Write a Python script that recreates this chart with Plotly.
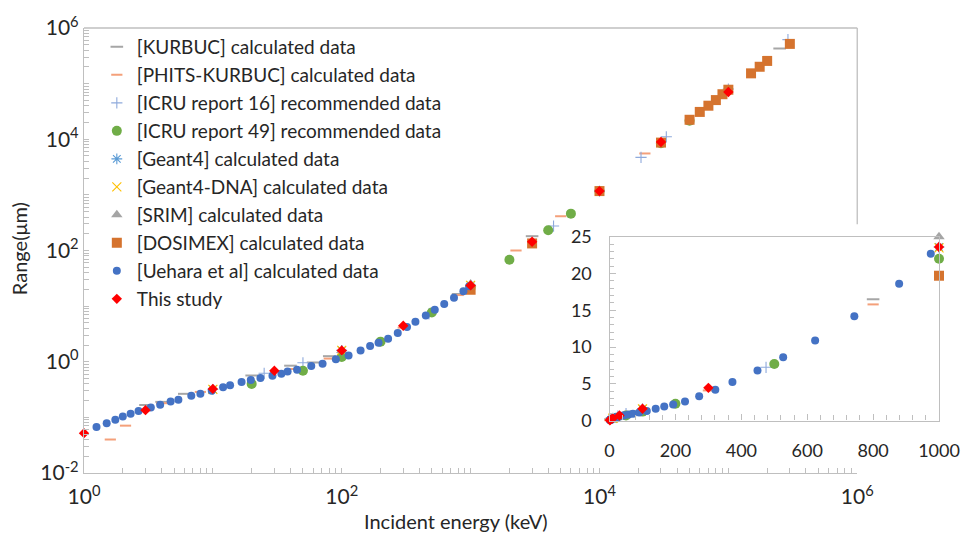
import numpy as np
import plotly.graph_objects as go

# ---------------- data (keV, µm) ----------------
kurbuc_E = [3, 4, 6, 20, 40, 60, 80, 800, 3000, 250000]
kurbuc_R = [0.167, 0.19, 0.265, 0.566, 0.85, 0.97, 1.26, 16.5, 181, 428000]

phits_E = [1.6, 2.1, 4, 8, 41, 80, 300, 800, 2250, 5000, 22500]
phits_R = [0.040, 0.071, 0.18, 0.287, 0.74, 1.14, 4.1, 15.8, 100, 413, 5550]

icru16_E = [25, 50, 475, 4400, 21000, 33000, 100000, 290000]
icru16_R = [0.62, 0.96, 7.25, 275, 4720, 11070, 80000, 617000]

icru49_E = [20, 50, 100, 200, 500, 1000, 2000, 4000, 6000, 10000, 30000, 50000]
icru49_R = [0.40, 0.69, 1.22, 2.3, 7.7, 22.0, 68, 231, 460, 1170, 8500, 21500]

geant4_E = [10, 100, 1000, 10000]
geant4_R = [0.32, 1.6, 23.6, 1170]

g4dna_E = [10, 100, 1000]
g4dna_R = [0.32, 1.6, 23.5]

srim_E = [100, 1000]
srim_R = [1.6, 25.0]

dosimex_E = [1000, 3000, 10000, 30000, 50000, 60000, 70000, 80000, 90000,
             100000, 150000, 175000, 200000, 300000]
dosimex_R = [19.7, 134, 1170, 8700, 22400, 31000, 40100, 50600, 64500,
             77700, 153000, 201000, 256000, 518000]

uehara_E = [1.25, 1.5, 1.75, 2, 2.3, 2.65, 3.3, 3.9, 4.7, 5.4, 6.8, 8, 9.8, 12,
            13.6, 16.7, 19.7, 23.4, 29, 34, 38, 45, 58, 71, 90, 113, 140, 166,
            193, 229, 272, 321, 373, 449, 527, 624, 743, 879, 975]
uehara_R = [0.067, 0.0785, 0.091, 0.104, 0.116, 0.13, 0.150, 0.168, 0.192,
            0.208, 0.245, 0.266, 0.30, 0.348, 0.377, 0.432, 0.468, 0.508, 0.558,
            0.607, 0.667, 0.72, 0.84, 0.92, 1.11, 1.30, 1.6, 1.92, 2.2, 2.6,
            3.3, 4.2, 5.25, 6.8, 8.6, 10.9, 14.2, 18.6, 22.7]

study_E = [1, 3, 10, 30, 100, 300, 1000, 3000, 10000, 30000, 100000]
study_R = [0.052, 0.135, 0.325, 0.69, 1.6, 4.45, 23.6, 144, 1170, 8900, 70800]

main_xticks = [1, 100, 1e4, 1e6]
main_xtext = ["10<sup>0</sup>", "10<sup>2</sup>", "10<sup>4</sup>", "10<sup>6</sup>"]
main_yticks = [1e-2, 1, 1e2, 1e4, 1e6]
main_ytext = ["10<sup>-2</sup>", "10<sup>0</sup>", "10<sup>2</sup>", "10<sup>4</sup>", "10<sup>6</sup>"]

# ---------------- styles ----------------
series = [
    ("[KURBUC] calculated data", kurbuc_E, kurbuc_R,
     dict(symbol="line-ew", size=9, color="#A6A6A6", line=dict(width=2, color="#A6A6A6"))),
    ("[PHITS-KURBUC] calculated data", phits_E, phits_R,
     dict(symbol="line-ew", size=8, color="#F4A07A", line=dict(width=2, color="#F4A07A"))),
    ("[ICRU report 16] recommended data", icru16_E, icru16_R,
     dict(symbol="cross-thin", size=8, color="#8FAADC", line=dict(width=1.1, color="#8FAADC"))),
    ("[ICRU report 49] recommended data", icru49_E, icru49_R,
     dict(symbol="circle", size=10, color="#70AD47")),
    ("[Geant4] calculated data", geant4_E, geant4_R,
     dict(symbol="asterisk", size=9, color="#5B9BD5", line=dict(width=1.1, color="#5B9BD5"))),
    ("[Geant4-DNA] calculated data", g4dna_E, g4dna_R,
     dict(symbol="x-thin", size=9, color="#FFC000", line=dict(width=1.1, color="#FFC000"))),
    ("[SRIM] calculated data", srim_E, srim_R,
     dict(symbol="triangle-up", size=10, color="#A5A5A5")),
    ("[DOSIMEX] calculated data", dosimex_E, dosimex_R,
     dict(symbol="square", size=10, color="#D5732E")),
    ("[Uehara et al] calculated data", uehara_E, uehara_R,
     dict(symbol="circle", size=8, color="#4472C4")),
    ("This study", study_E, study_R,
     dict(symbol="diamond", size=8, color="#FF0000")),
]

fig = go.Figure()
for i, (name, E, R, mk) in enumerate(series):
    fig.add_trace(go.Scatter(x=E, y=R, mode="markers", name=name, marker=mk,
                             cliponaxis=False, xaxis="x", yaxis="y",
                             legendgroup="g%d" % i))
for i, (name, E, R, mk) in enumerate(series):
    E = np.array(E, dtype=float)
    R = np.array(R, dtype=float)
    sel = E <= 1000
    if sel.any():
        fig.add_trace(go.Scatter(x=E[sel], y=R[sel], mode="markers", name=name,
                                 marker=mk, cliponaxis=False, showlegend=False,
                                 xaxis="x2", yaxis="y2", legendgroup="g%d" % i))

# ---------------- layout ----------------
W, H = 972, 535
ml, mr, mt, mb = 83.5, 22.7, 20, 61.6
pw = W - ml - mr
ph = H - mt - mb
main_right = (866.5 - ml) / pw
ins_left = (615.7 - ml) / pw
ins_bottom = (H - mb - 420) / ph
ins_top = (H - mb - 232.7) / ph

axcol = "#BFBFBF"
txt = "#262626"
FONT = "Lato"

log_minor_x = [d * 10 ** k for k in range(0, 6) for d in range(1, 10)] + [1e6]
log_minor_y = [d * 10 ** k for k in range(-2, 6) for d in range(1, 10)] + [1e6]

fig.update_layout(
    width=W, height=H,
    margin=dict(l=ml, r=mr, t=mt, b=mb, pad=0),
    paper_bgcolor="white", plot_bgcolor="white",
    font=dict(family=FONT, color=txt, size=18),
    xaxis=dict(type="log", range=[0, 6], domain=[0, main_right],
               tickmode="array", tickvals=main_xticks, ticktext=main_xtext,
               ticks="inside", ticklen=5, tickcolor=axcol,
               minor=dict(tickmode="array", tickvals=log_minor_x, ticks="inside",
                          ticklen=5, tickcolor=axcol, showgrid=False),
               showline=True, linecolor=axcol, linewidth=1.3, showgrid=False,
               zeroline=False, tickfont=dict(size=21), anchor="y",
               ticklabelstandoff=5),
    yaxis=dict(type="log", range=[-2, 6], domain=[0, 1],
               tickmode="array", tickvals=main_yticks, ticktext=main_ytext,
               ticks="inside", ticklen=5, tickcolor=axcol,
               minor=dict(tickmode="array", tickvals=log_minor_y, ticks="inside",
                          ticklen=5, tickcolor=axcol, showgrid=False),
               showline=True, linecolor=axcol, linewidth=1.3, showgrid=False,
               zeroline=False, tickfont=dict(size=21), anchor="x"),
    xaxis2=dict(range=[0, 1000], domain=[ins_left, 1], anchor="y2",
                dtick=200, ticks="inside", ticklen=6, tickcolor=axcol,
                minor=dict(dtick=40, ticks="inside", ticklen=5, tickcolor=axcol),
                showline=True, mirror=True, linecolor=axcol, linewidth=1.3,
                showgrid=False, zeroline=False, tickfont=dict(size=18),
                ticklabelstandoff=14),
    yaxis2=dict(range=[0, 25], domain=[ins_bottom, ins_top], anchor="x2",
                dtick=5, ticks="inside", ticklen=6, tickcolor=axcol,
                minor=dict(dtick=1, ticks="inside", ticklen=4, tickcolor=axcol),
                showline=True, mirror=True, linecolor=axcol, linewidth=1.3,
                showgrid=False, zeroline=False, tickfont=dict(size=18),
                ticklabelstandoff=13),
    legend=dict(x=0.015, y=1.0, xanchor="left", yanchor="top",
                bgcolor="rgba(0,0,0,0)", font=dict(size=19, family=FONT, color=txt),
                tracegroupgap=0.3, itemsizing="trace"),
    showlegend=True,
    annotations=[
        dict(text="Range(μm)", xref="paper", yref="paper",
             x=(18 - ml) / pw, y=(H - mb - 245) / ph, textangle=-90,
             xanchor="center", yanchor="middle",
             showarrow=False, font=dict(size=20, family=FONT, color=txt)),
        dict(text="Incident energy (keV)", xref="paper", yref="paper",
             x=(460 - ml) / pw, y=(H - mb - 522) / ph,
             xanchor="center", yanchor="middle",
             showarrow=False, font=dict(size=20, family=FONT, color=txt)),
    ],
    shapes=[
        dict(type="line", xref="paper", yref="paper", x0=0, x1=main_right,
             y0=1, y1=1, line=dict(color=axcol, width=1.3)),
        dict(type="line", xref="paper", yref="paper", x0=main_right, x1=main_right,
             y0=1, y1=(H - mb - 220) / ph, line=dict(color=axcol, width=1.3)),
    ],
)

fig.write_html("out.html")
